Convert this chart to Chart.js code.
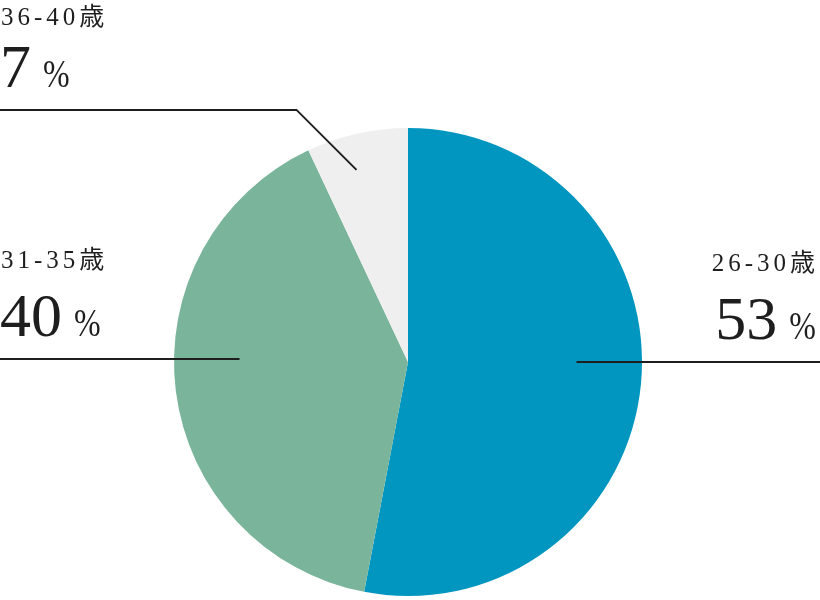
<!DOCTYPE html>
<html lang="ja">
<head>
  <meta charset="UTF-8">
  <title>年齢構成</title>
  <script src="https://cdn.jsdelivr.net/npm/chart.js"></script>
  <style>
    html, body { margin: 0; padding: 0; background: #fff; }
    #wrap { width: 820px; height: 600px; }
  </style>
</head>
<body>
  <div id="wrap">
    <canvas id="ageChart" width="820" height="600"></canvas>
  </div>

  <script>
    // data
    const ageGroups = ['26-30歳', '31-35歳', '36-40歳'];
    const shares = [53, 40, 7];
    const sliceColors = ['#0096bf', '#7ab59b', '#efefef'];

    // where each leader line starts inside its slice (angle from top, clockwise)
    const leaderAngle = [90, 271, 345];
    const leaderDepth = [0.72, 0.72, 0.85];
    const leaderSide = ['right', 'left', 'left'];
    const leaderKink = [0, 0, 60];

    const ink = '#1e1e1e';
    const serif = '"Liberation Serif", "Noto Sans CJK JP", serif';

    const calloutPlugin = {
      id: 'callouts',
      afterDraw(chart) {
        const ctx = chart.ctx;
        const arcs = chart.getDatasetMeta(0).data;
        ctx.save();
        arcs.forEach((arc, i) => {
          const a = (leaderAngle[i] - 90) * Math.PI / 180;
          const px = arc.x + Math.cos(a) * arc.outerRadius * leaderDepth[i];
          const py = arc.y + Math.sin(a) * arc.outerRadius * leaderDepth[i];
          const k = leaderKink[i];
          const ey = py - k;
          const ex = leaderSide[i] === 'left' ? px - k : px + k;
          const endX = leaderSide[i] === 'left' ? 0 : chart.width;

          ctx.strokeStyle = ink;
          ctx.lineWidth = 2;
          ctx.beginPath();
          ctx.moveTo(px, py);
          ctx.lineTo(ex, ey);
          ctx.lineTo(endX, ey);
          ctx.stroke();

          ctx.fillStyle = ink;
          ctx.textBaseline = 'alphabetic';
          const right = leaderSide[i] === 'right';
          const labelY = Math.max(ey - 91, 25);

          // age group label
          ctx.font = '25px ' + serif;
          ctx.letterSpacing = '4px';
          if (right) {
            ctx.textAlign = 'right';
            ctx.fillText(ageGroups[i], chart.width - 1, labelY);
          } else {
            ctx.textAlign = 'left';
            ctx.fillText(ageGroups[i], 1, labelY);
          }

          // big percentage
          ctx.letterSpacing = '0px';
          const num = String(shares[i]);
          const squeeze = 0.78;
          ctx.font = '41px ' + serif;
          const pctW = ctx.measureText('%').width * squeeze;
          ctx.font = '62px ' + serif;
          const numW = ctx.measureText(num).width;
          const gap = 12;
          const numY = ey - 23;
          const x0 = right ? chart.width - 4 - pctW - gap - numW : 0;
          ctx.textAlign = 'left';
          ctx.fillText(num, x0, numY);
          ctx.font = '41px ' + serif;
          ctx.save();
          ctx.translate(x0 + numW + gap, numY);
          ctx.scale(squeeze, 1);
          ctx.fillText('%', 0, 0);
          ctx.restore();
        });
        ctx.restore();
      }
    };

    new Chart(document.getElementById('ageChart'), {
      type: 'pie',
      data: {
        labels: ageGroups,
        datasets: [{
          data: shares,
          backgroundColor: sliceColors,
          borderWidth: 0
        }]
      },
      options: {
        responsive: false,
        animation: false,
        layout: { padding: { top: 128, bottom: 4, left: 0, right: 4 } },
        plugins: {
          legend: { display: false },
          tooltip: { enabled: false }
        }
      },
      plugins: [calloutPlugin]
    });
  </script>
</body>
</html>
